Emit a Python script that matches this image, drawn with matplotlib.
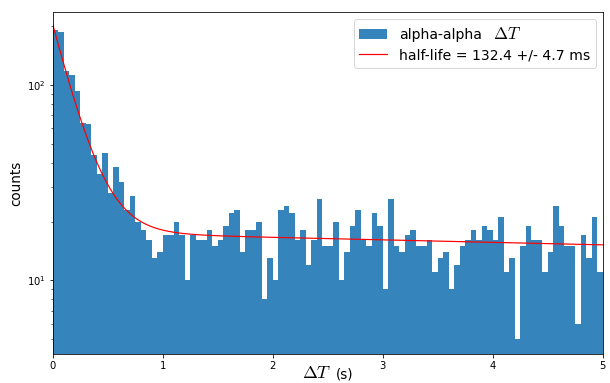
import numpy as np
import matplotlib
matplotlib.use("Agg")
import matplotlib.pyplot as plt
from matplotlib.offsetbox import TextArea, HPacker, AnchoredOffsetbox

plt.rcParams['mathtext.fontset'] = 'cm'

# histogram of alpha-alpha time differences, 0.05 s bins from 0 to 5 s
bin_edges = np.linspace(0, 5, 101)
counts = [
    190, 186, 118, 113, 93, 64, 63, 44, 35, 45,
    28, 38, 32, 23, 27, 20, 18, 16, 13, 14,
    17, 17, 20, 17, 10, 17, 16, 16, 18, 15,
    16, 19, 22, 23, 14, 18, 18, 20, 8, 13,
    10, 23, 24, 22, 16, 18, 12, 16, 26, 15,
    15, 20, 10, 14, 19, 23, 16, 15, 22, 19,
    9, 26, 15, 14, 17, 18, 15, 15, 16, 11,
    13, 14, 9, 12, 15, 16, 18, 16, 19, 18,
    16, 21, 11, 13, 5, 15, 19, 16, 16, 11,
    14, 24, 19, 15, 15, 6, 17, 13, 21, 11,
]

# fit result: decay + slowly falling background
half_life = 0.1324
half_life_err = 0.0047
amp = 184.0
bkg0 = 17.6
bkg_tau = 34.0

t = np.linspace(0, 5, 500)
fit = amp * np.exp(-np.log(2) * t / half_life) + bkg0 * np.exp(-t / bkg_tau)

fig = plt.figure(figsize=(610 / 72, 383 / 72), dpi=72)
ax = fig.add_axes([53 / 610, 1 - 354 / 383, 549.5 / 610, 342 / 383])

centers = 0.5 * (bin_edges[:-1] + bin_edges[1:])
ax.hist(centers, bins=bin_edges, weights=counts, color='tab:blue', alpha=0.9,
        label='alpha-alpha')
ax.plot(t, fit, color='red', linewidth=1.2,
        label='half-life = %.1f +/- %.1f ms' % (half_life * 1000, half_life_err * 1000))

ax.set_yscale('log')
ax.set_xlim(0, 5)
ax.set_ylim(4.2, 236)
ax.tick_params(labelsize=10)
ax.set_ylabel('counts', fontsize=13.5)

leg = ax.legend(loc='upper right', fontsize=14, labelspacing=0.4)
leg.get_lines()[0].set_color('red')
# bigger math symbol after the first legend label
dt = TextArea(r'$\Delta T$', textprops=dict(fontsize=17))
dt.set_figure(fig)
entry = leg._legend_handle_box.get_children()[0].get_children()[0]
entry.get_children().append(dt)

# x label: large math part + normal text
xl = HPacker(children=[TextArea(r'$\Delta T$', textprops=dict(fontsize=18)),
                       TextArea('(s)', textprops=dict(fontsize=13.5))],
             sep=4, align='baseline')
ab = AnchoredOffsetbox(loc='lower center', child=xl, pad=0, borderpad=0,
                       frameon=False)
ab.set_bbox_to_anchor((0.5 * (53 + 602.5) / 610, 1 / 383), transform=fig.transFigure)
fig.add_artist(ab)

fig.savefig('out.png', dpi=72)
